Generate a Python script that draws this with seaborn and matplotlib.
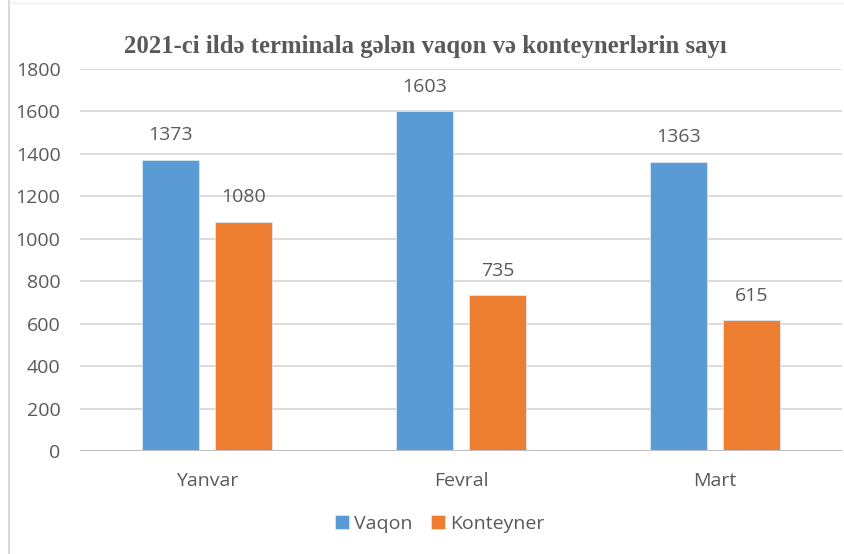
import numpy as np
import pandas as pd
import matplotlib
matplotlib.use("Agg")
import matplotlib.pyplot as plt
import seaborn as sns

# data
months = ["Yanvar", "Fevral", "Mart"]
vaqon = [1373, 1603, 1363]
konteyner = [1080, 735, 615]
series = ["Vaqon", "Konteyner"]
yticks = [0, 200, 400, 600, 800, 1000, 1200, 1400, 1600, 1800]

df = pd.DataFrame({
    "Ay": months * 2,
    "Say": vaqon + konteyner,
    "Növ": [series[0]] * 3 + [series[1]] * 3,
})

sns.set_style("white")
plt.rcParams["font.family"] = ["Open Sans", "DejaVu Sans"]
gray = "#595959"
fs = 14

fig = plt.figure(figsize=(8.45, 5.54), dpi=100)
ax = fig.add_axes([80 / 845, 103 / 554, 762 / 845, 382 / 554])

sns.barplot(data=df, x="Ay", y="Say", hue="Növ", order=months, hue_order=series,
            palette=["#5B9BD5", "#ED7D31"], width=0.574, gap=0.22,
            saturation=1, edgecolor="#dbe8f5", linewidth=0.6, ax=ax, legend=True)

for cont in ax.containers:
    for bar in cont:
        h = bar.get_height()
        ax.annotate(f"{h:.0f}", (bar.get_x() + bar.get_width() / 2, h),
                    textcoords="offset points", xytext=(0, 17.5),
                    ha="center", va="center", fontsize=fs, color=gray)

ax.set_xlim(-0.5, 2.5)
ax.set_ylim(0, 1800)
ax.set_yticks(yticks)
ax.yaxis.grid(True, color="#d9d9d9", linewidth=1.3)
ax.set_axisbelow(True)
ax.axhline(0, color="#bfbfbf", linewidth=1.5, zorder=1)
for s in ax.spines.values():
    s.set_visible(False)
ax.tick_params(axis="both", length=0, labelsize=fs, labelcolor=gray)
ax.tick_params(axis="y", pad=14)
ax.tick_params(axis="x", pad=15)
ax.set_xlabel("")
ax.set_ylabel("")

leg = ax.legend(loc="center", bbox_to_anchor=(0.472, -0.19), ncol=2, frameon=False,
                fontsize=fs, handlelength=0.7, handleheight=0.7,
                handletextpad=0.25, columnspacing=1.0)
for t in leg.get_texts():
    t.set_color(gray)

fig.text(0.503, 1 - 47 / 554, "2021-ci ildə terminala gələn vaqon və konteynerlərin sayı",
         ha="center", va="center", fontsize=17.8, fontweight="bold",
         family=["Liberation Serif", "DejaVu Serif"], color=gray)

# chart area border (left and top edges)
fig.add_artist(plt.Line2D([9 / 845, 9 / 845], [0, 1], color="#d9d9d9", linewidth=1.5))
fig.add_artist(plt.Line2D([9 / 845, 1], [1 - 3 / 554, 1 - 3 / 554], color="#eeeeee", linewidth=1))

fig.savefig("out.png", dpi=100)
